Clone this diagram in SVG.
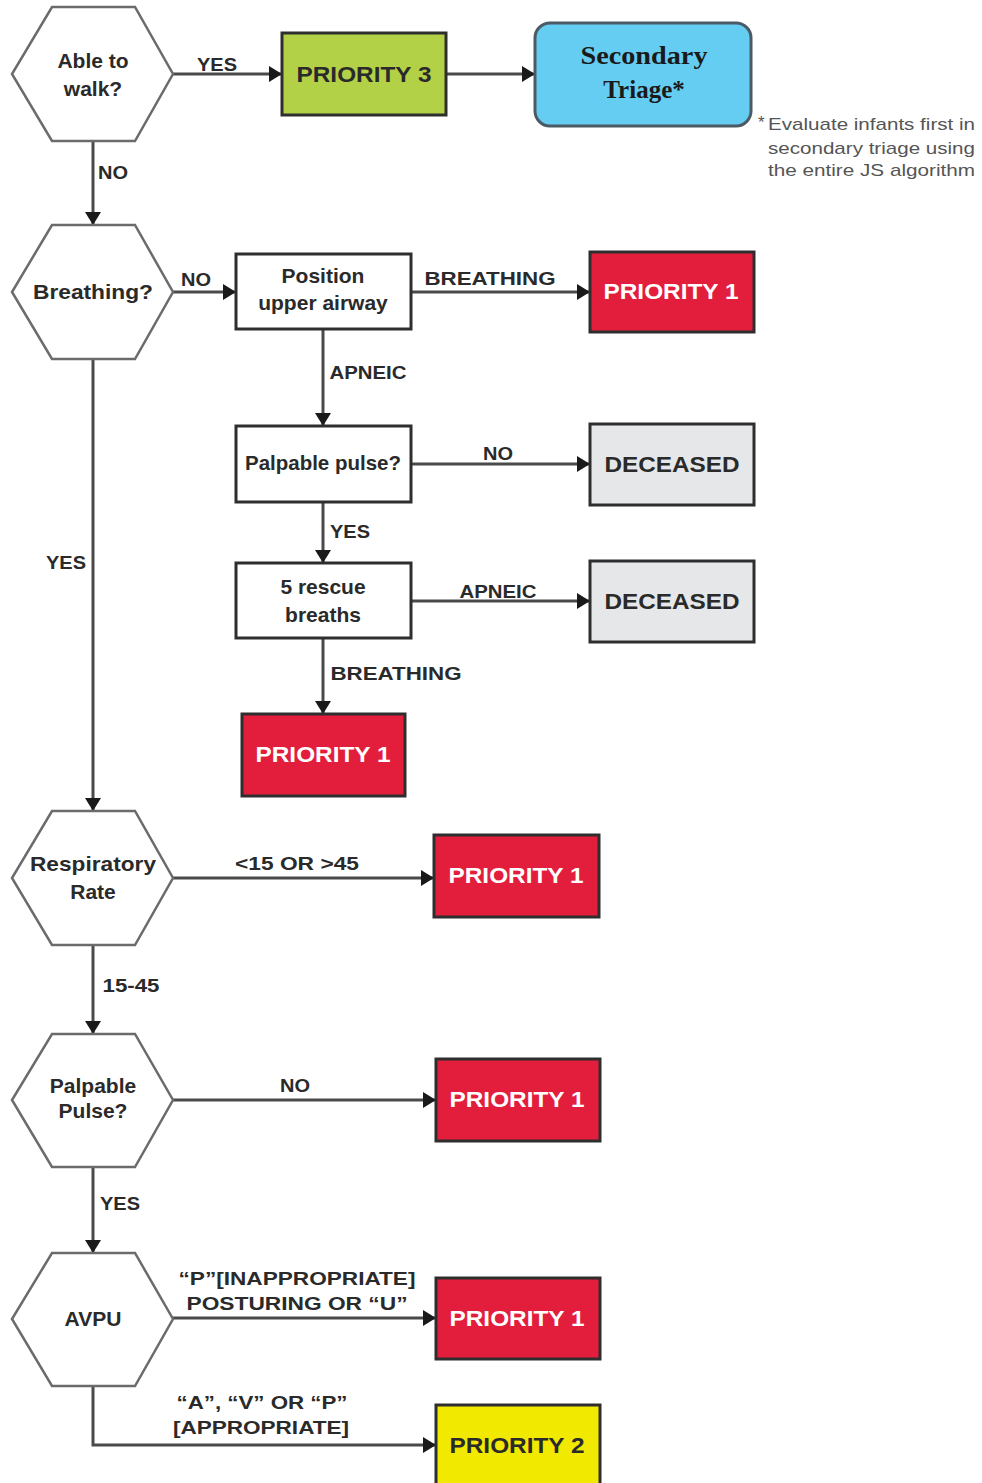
<svg xmlns="http://www.w3.org/2000/svg" width="982" height="1483" viewBox="0 0 982 1483">
<defs>
<marker id="ah" markerWidth="13" markerHeight="16" refX="12" refY="8" orient="auto" markerUnits="userSpaceOnUse" viewBox="0 0 13 16">
<path d="M0,0 L13,8 L0,16 Z" fill="#1a1a1a"/>
</marker>
<style>
.hex{fill:#fff;stroke:#6b6b6b;stroke-width:2.5}
.box{stroke:#2e2e2e;stroke-width:3}
.w{fill:#fff}
.p1{fill:#e31e3c}
.p3{fill:#b2d147}
.p2{fill:#f2e900}
.dc{fill:#e6e7e8}
.st{fill:#66cdf2;stroke:#4b5b66;stroke-width:3}
.conn line,.conn path{stroke:#4a4a4a;stroke-width:3;fill:none}
.nt{font-family:"Liberation Sans",Arial,sans-serif;font-weight:bold;font-size:21px;fill:#2a2a2a;text-anchor:middle}
.pt{font-family:"Liberation Sans",Arial,sans-serif;font-weight:bold;font-size:22px;text-anchor:middle}
.el{font-family:"Liberation Sans",Arial,sans-serif;font-weight:bold;font-size:19px;fill:#2a2a2a;text-anchor:middle}
.fn{font-family:"Liberation Sans",Arial,sans-serif;font-size:17px;fill:#555}
.sr{font-family:"Liberation Serif","Times New Roman",serif;font-weight:bold;font-size:25px;fill:#1a1a1a;text-anchor:middle}
</style>
</defs>
<rect width="982" height="1483" fill="#fff"/>

<g class="conn" id="connectors">
<line x1="173" y1="74" x2="281" y2="74" marker-end="url(#ah)"/>
<line x1="446" y1="74" x2="534" y2="74" marker-end="url(#ah)"/>
<line x1="93" y1="141" x2="93" y2="224" marker-end="url(#ah)"/>
<line x1="173" y1="292" x2="235" y2="292" marker-end="url(#ah)"/>
<line x1="411" y1="292" x2="589" y2="292" marker-end="url(#ah)"/>
<line x1="323" y1="329" x2="323" y2="425" marker-end="url(#ah)"/>
<line x1="411" y1="464" x2="589" y2="464" marker-end="url(#ah)"/>
<line x1="323" y1="502" x2="323" y2="562" marker-end="url(#ah)"/>
<line x1="411" y1="601" x2="589" y2="601" marker-end="url(#ah)"/>
<line x1="323" y1="638" x2="323" y2="713" marker-end="url(#ah)"/>
<line x1="93" y1="359" x2="93" y2="810" marker-end="url(#ah)"/>
<line x1="173" y1="878" x2="433" y2="878" marker-end="url(#ah)"/>
<line x1="93" y1="945" x2="93" y2="1033" marker-end="url(#ah)"/>
<line x1="173" y1="1100" x2="435" y2="1100" marker-end="url(#ah)"/>
<line x1="93" y1="1167" x2="93" y2="1252" marker-end="url(#ah)"/>
<line x1="173" y1="1318" x2="435" y2="1318" marker-end="url(#ah)"/>
<path d="M93,1386 L93,1445 L435,1445" marker-end="url(#ah)"/>
<text class="el" x="217" y="71" textLength="40" lengthAdjust="spacingAndGlyphs">YES</text>
<text class="el" x="113" y="179" textLength="30" lengthAdjust="spacingAndGlyphs">NO</text>
<text class="el" x="196" y="286" textLength="30" lengthAdjust="spacingAndGlyphs">NO</text>
<text class="el" x="490" y="285" textLength="131" lengthAdjust="spacingAndGlyphs">BREATHING</text>
<text class="el" x="368" y="379" textLength="77" lengthAdjust="spacingAndGlyphs">APNEIC</text>
<text class="el" x="498" y="460" textLength="30" lengthAdjust="spacingAndGlyphs">NO</text>
<text class="el" x="350" y="538" textLength="40" lengthAdjust="spacingAndGlyphs">YES</text>
<text class="el" x="498" y="598" textLength="77" lengthAdjust="spacingAndGlyphs">APNEIC</text>
<text class="el" x="396" y="680" textLength="131" lengthAdjust="spacingAndGlyphs">BREATHING</text>
<text class="el" x="66" y="569" textLength="40" lengthAdjust="spacingAndGlyphs">YES</text>
<text class="el" x="297" y="870" textLength="124" lengthAdjust="spacingAndGlyphs">&lt;15 OR &gt;45</text>
<text class="el" x="131" y="992" textLength="57" lengthAdjust="spacingAndGlyphs">15-45</text>
<text class="el" x="295" y="1092" textLength="30" lengthAdjust="spacingAndGlyphs">NO</text>
<text class="el" x="120" y="1210" textLength="40" lengthAdjust="spacingAndGlyphs">YES</text>
<text class="el" x="297" y="1285" textLength="237" lengthAdjust="spacingAndGlyphs">“P”[INAPPROPRIATE]</text>
<text class="el" x="297" y="1310" textLength="221" lengthAdjust="spacingAndGlyphs">POSTURING OR “U”</text>
<text class="el" x="262" y="1409" textLength="171" lengthAdjust="spacingAndGlyphs">“A”, “V” OR “P”</text>
<text class="el" x="261" y="1434" textLength="176" lengthAdjust="spacingAndGlyphs">[APPROPRIATE]</text>
</g>

<g id="able-to-walk">
<polygon class="hex" points="52,7 135,7 173,74 135,141 52,141 12,74"/>
<text class="nt" x="93" y="68" font-size="22">Able to</text>
<text class="nt" x="93" y="96" font-size="22">walk?</text>
</g>
<g id="priority3">
<rect class="box p3" x="282" y="33" width="164" height="82"/>
<text class="pt" x="364" y="82" fill="#2a2a2a" textLength="135" lengthAdjust="spacingAndGlyphs">PRIORITY 3</text>
</g>
<g id="secondary-triage">
<rect class="st" x="535" y="23" width="216" height="103" rx="15"/>
<text class="sr" x="644" y="64" textLength="127" lengthAdjust="spacingAndGlyphs">Secondary</text>
<text class="sr" x="644" y="98">Triage*</text>
</g>
<g id="footnote">
<text class="fn" x="758" y="128" font-size="14">*</text>
<text class="fn" x="768" y="130" textLength="207" lengthAdjust="spacingAndGlyphs">Evaluate infants first in</text>
<text class="fn" x="768" y="154" textLength="207" lengthAdjust="spacingAndGlyphs">secondary triage using</text>
<text class="fn" x="768" y="176" textLength="207" lengthAdjust="spacingAndGlyphs">the entire JS algorithm</text>
</g>
<g id="breathing">
<polygon class="hex" points="52,225 135,225 173,292 135,359 52,359 12,292"/>
<text class="nt" x="93" y="299" textLength="120" lengthAdjust="spacingAndGlyphs">Breathing?</text>
</g>
<g id="position-airway">
<rect class="box w" x="236" y="254" width="175" height="75"/>
<text class="nt" x="323" y="283" font-size="20">Position</text>
<text class="nt" x="323" y="310" font-size="20">upper airway</text>
</g>
<g id="priority1-a">
<rect class="box p1" x="590" y="252" width="164" height="80"/>
<text class="pt" x="671" y="299" fill="#fff" textLength="135" lengthAdjust="spacingAndGlyphs">PRIORITY 1</text>
</g>
<g id="palpable-pulse-box">
<rect class="box w" x="236" y="426" width="175" height="76"/>
<text class="nt" x="323" y="470" font-size="18" textLength="156" lengthAdjust="spacingAndGlyphs">Palpable pulse?</text>
</g>
<g id="deceased-a">
<rect class="box dc" x="590" y="424" width="164" height="81"/>
<text class="pt" x="672" y="472" fill="#2a2a2a" textLength="135" lengthAdjust="spacingAndGlyphs">DECEASED</text>
</g>
<g id="rescue-breaths">
<rect class="box w" x="236" y="563" width="175" height="75"/>
<text class="nt" x="323" y="594">5 rescue</text>
<text class="nt" x="323" y="622">breaths</text>
</g>
<g id="deceased-b">
<rect class="box dc" x="590" y="561" width="164" height="81"/>
<text class="pt" x="672" y="609" fill="#2a2a2a" textLength="135" lengthAdjust="spacingAndGlyphs">DECEASED</text>
</g>
<g id="priority1-b">
<rect class="box p1" x="242" y="714" width="163" height="82"/>
<text class="pt" x="323" y="762" fill="#fff" textLength="135" lengthAdjust="spacingAndGlyphs">PRIORITY 1</text>
</g>
<g id="respiratory-rate">
<polygon class="hex" points="52,811 135,811 173,878 135,945 52,945 12,878"/>
<text class="nt" x="93" y="871" textLength="126" lengthAdjust="spacingAndGlyphs">Respiratory</text>
<text class="nt" x="93" y="899">Rate</text>
</g>
<g id="priority1-c">
<rect class="box p1" x="434" y="835" width="165" height="82"/>
<text class="pt" x="516" y="883" fill="#fff" textLength="135" lengthAdjust="spacingAndGlyphs">PRIORITY 1</text>
</g>
<g id="palpable-pulse-hex">
<polygon class="hex" points="52,1034 135,1034 173,1100 135,1167 52,1167 12,1100"/>
<text class="nt" x="93" y="1093">Palpable</text>
<text class="nt" x="93" y="1118">Pulse?</text>
</g>
<g id="priority1-d">
<rect class="box p1" x="436" y="1059" width="164" height="82"/>
<text class="pt" x="517" y="1107" fill="#fff" textLength="135" lengthAdjust="spacingAndGlyphs">PRIORITY 1</text>
</g>
<g id="avpu">
<polygon class="hex" points="52,1253 135,1253 173,1319 135,1386 52,1386 12,1319"/>
<text class="nt" x="93" y="1326" font-size="22">AVPU</text>
</g>
<g id="priority1-e">
<rect class="box p1" x="436" y="1278" width="164" height="81"/>
<text class="pt" x="517" y="1326" fill="#fff" textLength="135" lengthAdjust="spacingAndGlyphs">PRIORITY 1</text>
</g>
<g id="priority2">
<rect class="box p2" x="436" y="1405" width="164" height="82"/>
<text class="pt" x="517" y="1453" fill="#2a2a2a" textLength="135" lengthAdjust="spacingAndGlyphs">PRIORITY 2</text>
</g>
</svg>
